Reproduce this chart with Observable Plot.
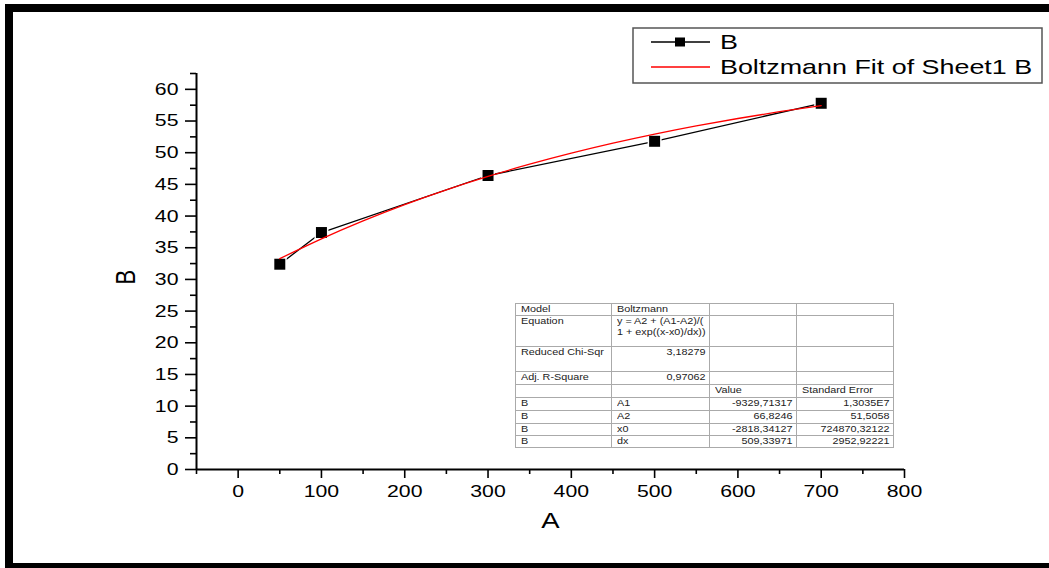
<!DOCTYPE html>
<html><head><meta charset="utf-8">
<script src="https://cdn.jsdelivr.net/npm/d3@7"></script>
<script src="https://cdn.jsdelivr.net/npm/@observablehq/plot@0.6"></script>
<style>
body{margin:0;background:#fff;font-family:"Liberation Sans",Arial,sans-serif;}
#wrap{position:relative;width:1049px;height:568px;overflow:hidden;background:#fff}
#frame{position:absolute;left:5px;top:4px;width:1044px;height:564px;border-top:8px solid #000;border-left:8px solid #000;border-bottom:5px solid #000;box-sizing:border-box}
#chart{position:absolute;left:0;top:0}
#legend{position:absolute;left:0;top:0}
#tbl{position:absolute;left:515px;top:303px;border-collapse:collapse;font-family:"Liberation Sans",Arial,sans-serif;font-size:9px;color:#222;border:1.5px solid #666;table-layout:fixed}
#tbl td{border:1px solid #aaa;padding:0 3px 0 5px;vertical-align:top;line-height:11px;white-space:pre;overflow:hidden}
#tbl td span{display:inline-block;transform:scaleX(1.2);transform-origin:left top}
#tbl td.r{text-align:right}
#tbl td.r span{transform-origin:right top}
</style></head>
<body>
<div id="wrap">
<div id="frame"></div>
<div id="chart"></div>
<svg id="legend" width="1049" height="568"></svg>
<table id="tbl"></table>
</div>
<script>
// measured data
const A = [50, 100, 300, 500, 700];
const B = [32.4, 37.4, 46.4, 51.8, 57.8];
// Boltzmann fit curve
const fitA = [50, 100, 150, 200, 250, 300, 350, 400, 450, 500, 550, 600, 650, 700];
const fitB = [33.28, 36.40, 39.24, 41.81, 44.14, 46.26, 48.18, 49.92, 51.50, 52.93, 54.23, 55.40, 56.47, 57.44];
// ticks
const xMajor = [0, 100, 200, 300, 400, 500, 600, 700, 800];
const xMinor = [-50, 50, 150, 250, 350, 450, 550, 650, 750];
const yMajor = [0, 5, 10, 15, 20, 25, 30, 35, 40, 45, 50, 55, 60];
const yMinor = [2.5, 7.5, 12.5, 17.5, 22.5, 27.5, 32.5, 37.5, 42.5, 47.5, 52.5, 57.5, 62.5];
// legend
const legendLabels = ["B", "Boltzmann Fit of Sheet1 B"];
// fit table
const tableCol1 = ["Model", "Equation", "Reduced Chi-Sqr", "Adj. R-Square", "", "B", "B", "B", "B"];
const tableCol2 = ["Boltzmann", "y = A2 + (A1-A2)/(\n1 + exp((x-x0)/dx))", "3,18279", "0,97062", "", "A1", "A2", "x0", "dx"];
const tableCol3 = ["", "", "", "", "Value", "-9329,71317", "66,8246", "-2818,34127", "509,33971"];
const tableCol4 = ["", "", "", "", "Standard Error", "1,3035E7", "51,5058", "724870,32122", "2952,92221"];

const SX = 1.25; // horizontal text stretch seen in the reference

const points = A.map((a, i) => ({A: a, B: B[i]}));
const fit = fitA.map((a, i) => ({A: a, B: fitB[i]}));

const chart = Plot.plot({
  width: 1049, height: 568,
  marginLeft: 196, marginRight: 145, marginTop: 73, marginBottom: 99,
  x: {domain: [-50, 800], label: null},
  y: {domain: [0, 62.5], label: null},
  style: {fontFamily: "Liberation Sans, Arial, sans-serif", background: "transparent", color: "#000"},
  marks: [
    Plot.axisY(yMinor, {tickSize: 6, tickFormat: () => "", strokeWidth: 1.6, label: null}),
    Plot.axisY(yMajor, {tickSize: 11, tickPadding: 7, fontSize: 17, strokeWidth: 1.6, label: null}),
    Plot.axisX(xMinor, {tickSize: 5, tickFormat: () => "", strokeWidth: 1.6, label: null}),
    Plot.axisX(xMajor, {tickSize: 9, tickPadding: 6, fontSize: 17, strokeWidth: 1.6, label: null}),
    Plot.ruleX([-50], {y1: 0, y2: 62.5, strokeWidth: 2}),
    Plot.ruleY([0], {x1: -50, x2: 800, strokeWidth: 2}),
    Plot.line(points, {x: "A", y: "B", stroke: "#000", strokeWidth: 1.3}),
    Plot.dot(points, {x: "A", y: "B", symbol: "square", r: 6.2, fill: "#000", stroke: "#fff", strokeWidth: 3, paintOrder: "stroke"}),
    Plot.line(fit, {x: "A", y: "B", stroke: "#ff0000", strokeWidth: 1.3, curve: "natural"}),
    Plot.text(["A"], {frameAnchor: "bottom", dy: 51, lineAnchor: "middle", fontSize: 22}),
    Plot.text(["B"], {frameAnchor: "left", dx: -69, dy: 13, rotate: -90, fontSize: 22})
  ]
});
document.getElementById("chart").appendChild(chart);

// stretch chart texts horizontally (screen x), keeping their anchor points
d3.select(chart).selectAll("text").each(function() {
  try {
    const tl = this.transform.baseVal;
    const c = tl.numberOfItems ? tl.consolidate() : null;
    let m = c ? c.matrix : chart.createSVGMatrix();
    const x = this.x.baseVal.numberOfItems ? this.x.baseVal.getItem(0).value : 0;
    const y = this.y.baseVal.numberOfItems ? this.y.baseVal.getItem(0).value : 0;
    const rot = Math.abs(m.b) > 0.5;
    m = m.translate(x, y);
    m = rot ? m.scaleNonUniform(1, SX) : m.scaleNonUniform(SX, 1);
    if ([m.a, m.b, m.c, m.d, m.e, m.f].every(Number.isFinite)) {
      this.removeAttribute("x");
      this.removeAttribute("y");
      this.setAttribute("transform", `matrix(${m.a},${m.b},${m.c},${m.d},${m.e},${m.f})`);
    }
  } catch (e) {}
});

// legend
const lg = d3.select("#legend");
lg.append("rect").attr("x", 633).attr("y", 28).attr("width", 409).attr("height", 55)
  .attr("fill", "#fff").attr("stroke", "#555").attr("stroke-width", 1.5);
lg.append("line").attr("x1", 651).attr("x2", 710).attr("y1", 42).attr("y2", 42).attr("stroke", "#000").attr("stroke-width", 1.3);
lg.append("rect").attr("x", 675).attr("y", 37.5).attr("width", 10).attr("height", 9).attr("fill", "#000");
lg.append("line").attr("x1", 651).attr("x2", 710).attr("y1", 67).attr("y2", 67).attr("stroke", "#ff0000").attr("stroke-width", 1.3);
legendLabels.forEach((t, i) => {
  lg.append("text").attr("transform", `translate(720,${42 + 25 * i}) scale(1.28,1)`).attr("dy", "0.35em")
    .attr("font-family", "Liberation Sans, Arial, sans-serif").attr("font-size", 21).text(t);
});

// table
const colW = [96, 98, 87, 97];
const rowH = [12, 31, 25, 13, 13, 13, 13, 12, 12];
const tbl = d3.select("#tbl").style("width", d3.sum(colW) + "px");
const cg = tbl.append("colgroup");
colW.forEach(w => cg.append("col").style("width", w + "px"));
tableCol1.forEach((c1, i) => {
  const tr = tbl.append("tr").style("height", rowH[i] + "px");
  tr.append("td").append("span").text(c1);
  tr.append("td").attr("class", (i === 2 || i === 3) ? "r" : null).append("span").text(tableCol2[i]);
  tr.append("td").attr("class", i > 4 ? "r" : null).append("span").text(tableCol3[i]);
  tr.append("td").attr("class", i > 4 ? "r" : null).append("span").text(tableCol4[i]);
});
</script>
</body></html>
